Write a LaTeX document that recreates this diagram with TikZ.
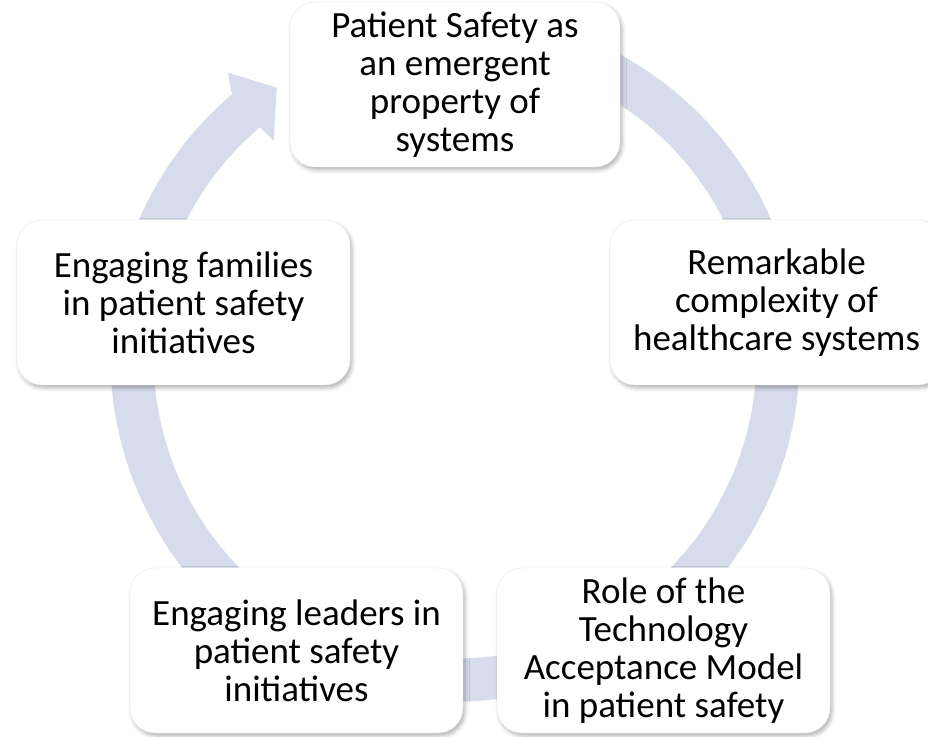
\documentclass[tikz,border=0pt]{standalone}
\usepackage{fontspec}
\setmainfont{Carlito}
\usetikzlibrary{shadows.blur}
\definecolor{ringcol}{RGB}{214,220,236}
\tikzset{
  stagebox/.style={rectangle, rounded corners=25pt, fill=white, draw=black!8, line width=0.4pt,
    minimum width=333pt, minimum height=165pt, inner sep=0pt, align=center,
    font=\fontsize{37}{38}\selectfont,
    blur shadow={shadow xshift=2pt, shadow yshift=-3pt, shadow blur radius=4pt, shadow opacity=30}},
  ringline/.style={line width=43pt, ringcol},
}
\begin{document}
\begin{tikzpicture}[x=1pt, y=1pt]
\useasboundingbox (0,0) rectangle (928,736);
\coordinate (c) at (455,379);
% ring shadow
\draw[line width=43pt, black, opacity=0.06, shift={(1.5,-2)}] ([shift={(110:323)}]c) arc[start angle=110, end angle=-230, radius=323];
% ring
\draw[ringline] ([shift={(110:323)}]c) arc[start angle=110, end angle=-230.3, radius=323];
\fill[ringcol] ([shift={(128.6:364)}]c) -- ([shift={(123.5:323)}]c) -- ([shift={(130:282)}]c)
  -- ([shift={(130.3:301)}]c) -- ([shift={(130.3:345)}]c) -- cycle;
% boxes
\node[stagebox, minimum width=330pt] (top) at (455,651.5) {Patient Safety as\\an emergent\\property of\\systems};
\node[stagebox] (right) at (776.5,433.5) {Remarkable\\complexity of\\healthcare systems};
\node[stagebox] (br) at (663.5,85.5) {Role of the\\Technology\\Acceptance Model\\in patient safety};
\node[stagebox] (bl) at (296.5,85.5) {Engaging leaders in\\patient safety\\initiatives};
\node[stagebox] (left) at (183.5,433.5) {Engaging families\\in patient safety\\initiatives};
\end{tikzpicture}
\end{document}
